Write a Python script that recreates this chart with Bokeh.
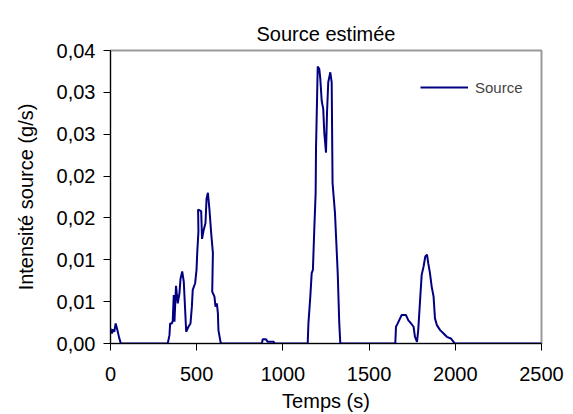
from bokeh.plotting import figure
from bokeh.models import FixedTicker, Legend, LegendItem, Range1d
from bokeh.embed import file_html
from bokeh.resources import INLINE

# Temps (s)
temps = [0, 8, 15, 22, 30, 40, 50, 60,
         332, 342, 346, 356, 361, 367, 371, 380, 390, 400, 406, 416, 425, 433, 439,
         452, 464, 472, 477, 491, 499, 503, 510, 508, 526, 531, 541, 551, 557, 565,
         574, 584, 594, 590, 603, 609, 617, 623, 626, 638, 642,
         878, 883, 902, 912, 947, 951,
         1144, 1148, 1159, 1167, 1174, 1182, 1190, 1192, 1202, 1211, 1217, 1225,
         1234, 1240, 1250, 1256, 1263, 1275, 1283, 1288, 1302, 1318, 1327, 1333,
         1652, 1656, 1666, 1675, 1689, 1714, 1727, 1743, 1758, 1766, 1778, 1785,
         1797, 1805, 1816, 1826, 1836, 1843, 1853, 1863, 1874, 1882, 1893, 1912,
         1932, 1951, 1974, 1990, 1997, 2500]
# Intensité source (g/s)
source = [0.0018, 0.0012, 0.0017, 0.0014, 0.0024, 0.0016, 0.0007, 0.0,
          0.0, 0.001, 0.0024, 0.0024, 0.0027, 0.0058, 0.0026, 0.0069, 0.0048, 0.006,
          0.0077, 0.0086, 0.0074, 0.004, 0.0014,
          0.002, 0.0024, 0.0044, 0.0064, 0.0072, 0.0088, 0.0108, 0.0134, 0.016,
          0.0158, 0.0125, 0.0136, 0.0144, 0.0173, 0.018,
          0.016, 0.0132, 0.0108, 0.0062, 0.0056, 0.0044, 0.0048, 0.0036, 0.0016,
          0.0002, 0.0,
          0.0, 0.0005, 0.0005, 0.0002, 0.0002, 0.0,
          0.0, 0.0024, 0.0056, 0.0084, 0.0088, 0.0136, 0.018, 0.0232, 0.0331,
          0.0328, 0.0316, 0.029, 0.028, 0.0252, 0.0228, 0.0276, 0.0312, 0.0324,
          0.0312, 0.0192, 0.0156, 0.0084, 0.0024, 0.0,
          0.0, 0.002, 0.0024, 0.0028, 0.0034, 0.0034, 0.0028, 0.0024, 0.002,
          0.0008, 0.0002, 0.0016, 0.0056, 0.0082, 0.0092, 0.0104, 0.0106, 0.0096,
          0.0084, 0.0068, 0.0056, 0.003, 0.0022, 0.0016, 0.0012, 0.0008, 0.0006,
          0.0002, 0.0, 0.0]

x_ticks = [0, 500, 1000, 1500, 2000, 2500]
y_ticks = [0.0, 0.005, 0.01, 0.015, 0.02, 0.025, 0.03, 0.035]
y_tick_labels = ["0,00", "0,01", "0,01", "0,02", "0,02", "0,03", "0,03", "0,04"]

FONT = "Liberation Sans"

p = figure(width=565, height=414, output_backend="svg", toolbar_location=None,
           x_range=Range1d(0, 2500), y_range=Range1d(0, 0.035),
           min_border_left=110, min_border_right=24, min_border_top=50,
           min_border_bottom=71, title="Source estimée")

p.title.align = "center"
p.title.text_font = FONT
p.title.text_font_size = "20px"
p.title.text_font_style = "normal"
p.title.text_color = "black"
p.title.offset = 0
p.title.standoff = 12

p.grid.visible = False
p.outline_line_color = "#999999"
p.outline_line_width = 2
p.background_fill_color = "white"
p.border_fill_color = "white"

p.xaxis.ticker = FixedTicker(ticks=x_ticks)
p.yaxis.ticker = FixedTicker(ticks=y_ticks)
p.yaxis.major_label_overrides = {t: l for t, l in zip(y_ticks, y_tick_labels)}

for ax in (p.xaxis[0], p.yaxis[0]):
    ax.major_label_text_font = FONT
    ax.major_label_text_font_size = "20px"
    ax.major_label_text_color = "black"
    ax.axis_label_text_font = FONT
    ax.axis_label_text_font_size = "20px"
    ax.axis_label_text_font_style = "normal"
    ax.axis_label_text_color = "black"
    ax.axis_line_color = "black"
    ax.major_tick_line_color = "black"
    ax.major_tick_out = 7
    ax.major_tick_in = 0
    ax.minor_tick_line_color = None

p.xaxis.axis_label = "Temps (s)"
p.yaxis.axis_label = "Intensité source (g/s)"
p.xaxis.major_label_standoff = 16
p.yaxis.major_label_standoff = 8
p.xaxis.axis_label_standoff = 6
p.yaxis.axis_label_standoff = 17

r = p.line(temps, source, line_color="#000080", line_width=2)

legend = Legend(items=[LegendItem(label="Source", renderers=[r])],
                location=(310, 246), border_line_color=None,
                background_fill_alpha=0, label_text_font=FONT,
                label_text_font_size="15px", glyph_width=48,
                margin=0, padding=4, label_standoff=7)
p.add_layout(legend)

open("out.html", "w").write(file_html(p, INLINE))
